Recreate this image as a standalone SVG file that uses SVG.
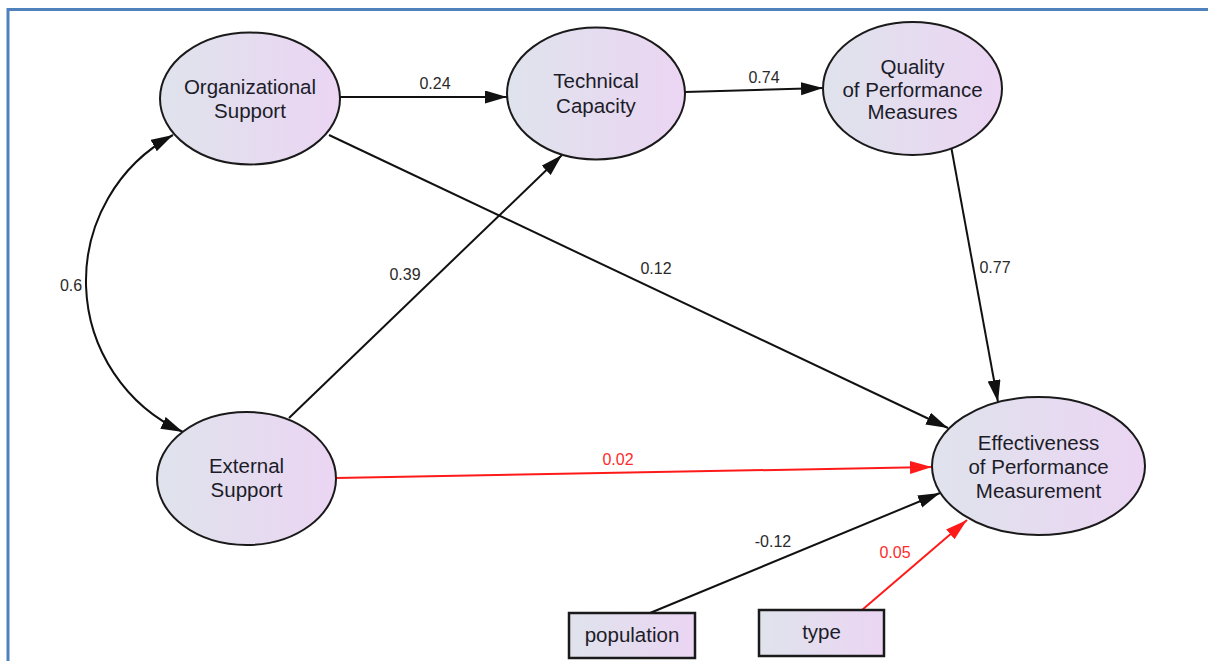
<svg xmlns="http://www.w3.org/2000/svg" width="1208" height="661" viewBox="0 0 1208 661">
  <defs>
    <linearGradient id="nodeFill" x1="0" y1="0" x2="1" y2="0">
      <stop offset="0" stop-color="#dfe3ec"/>
      <stop offset="1" stop-color="#ebd5f3"/>
    </linearGradient>
    <marker id="arrowBlack" markerUnits="userSpaceOnUse" markerWidth="24" markerHeight="14" refX="22" refY="6.5" orient="auto-start-reverse">
      <path d="M0,0 L22,6.5 L0,13 z" fill="#111"/>
    </marker>
    <marker id="arrowRed" markerUnits="userSpaceOnUse" markerWidth="24" markerHeight="14" refX="22" refY="6.5" orient="auto">
      <path d="M0,0 L22,6.5 L0,13 z" fill="#ff1a1a"/>
    </marker>
  </defs>
  <style>
    .node { fill: url(#nodeFill); stroke: #1a1a1a; stroke-width: 2; }
    .box { fill: url(#nodeFill); stroke: #1a1a1a; stroke-width: 2.5; }
    .label { font-family: "Liberation Sans", Arial, sans-serif; font-size: 20.5px; fill: #1c1c28; text-anchor: middle; }
    .coef { font-family: "Liberation Sans", Arial, sans-serif; font-size: 16px; fill: #2a2a2a; text-anchor: middle; }
    .coef.red { fill: #ff2a2a; }
    .edge { fill: none; stroke: #111; stroke-width: 2; marker-end: url(#arrowBlack); }
    .edge.red { stroke: #ff1a1a; marker-end: url(#arrowRed); }
  </style>

  <rect width="1208" height="661" fill="#ffffff"/>
  <!-- frame -->
  <rect x="8" y="9.5" width="1260" height="700" fill="none" stroke="#4f81bd" stroke-width="3"/>

  <!-- connectors -->
  <g id="connectors">
    <path class="edge" d="M173,135 A166,166 0 0,0 183,432" marker-start="url(#arrowBlack)"/>
    <path class="edge" d="M340,97 L507,97"/>
    <path class="edge" d="M685,92 L823,88"/>
    <path class="edge" d="M329,135 L948,428"/>
    <path class="edge" d="M289,418 L562,155"/>
    <path class="edge" d="M951,146 L998,402"/>
    <path class="edge red" d="M336,478 L932,467"/>
    <path class="edge" d="M650,613 L940,493"/>
    <path class="edge red" d="M862,610 L967,520"/>

    <text class="coef" x="71" y="291">0.6</text>
    <text class="coef" x="435" y="89">0.24</text>
    <text class="coef" x="764" y="83">0.74</text>
    <text class="coef" x="656" y="274">0.12</text>
    <text class="coef" x="405" y="280">0.39</text>
    <text class="coef" x="995" y="273">0.77</text>
    <text class="coef red" x="618" y="465">0.02</text>
    <text class="coef" x="773" y="547">-0.12</text>
    <text class="coef red" x="895" y="558">0.05</text>
  </g>

  <!-- latent variables -->
  <g id="organizational-support">
    <ellipse class="node" cx="250" cy="98.5" rx="90" ry="66"/>
    <text class="label" x="250" y="94">Organizational</text>
    <text class="label" x="250" y="118">Support</text>
  </g>
  <g id="technical-capacity">
    <ellipse class="node" cx="596" cy="93.5" rx="89" ry="66"/>
    <text class="label" x="596" y="88">Technical</text>
    <text class="label" x="596" y="113">Capacity</text>
  </g>
  <g id="quality-of-performance-measures">
    <ellipse class="node" cx="912.5" cy="88.5" rx="89.5" ry="66.5"/>
    <text class="label" x="912.5" y="74">Quality</text>
    <text class="label" x="912.5" y="97">of Performance</text>
    <text class="label" x="912.5" y="119">Measures</text>
  </g>
  <g id="external-support">
    <ellipse class="node" cx="246.5" cy="478.5" rx="89.5" ry="66.5"/>
    <text class="label" x="246.5" y="473">External</text>
    <text class="label" x="246.5" y="497">Support</text>
  </g>
  <g id="effectiveness-of-performance-measurement">
    <ellipse class="node" cx="1038.5" cy="466" rx="106.5" ry="69"/>
    <text class="label" x="1038.5" y="450">Effectiveness</text>
    <text class="label" x="1038.5" y="474">of Performance</text>
    <text class="label" x="1038.5" y="498">Measurement</text>
  </g>

  <!-- observed variables -->
  <g id="population">
    <rect class="box" x="569" y="613" width="126" height="45"/>
    <text class="label" x="632" y="642">population</text>
  </g>
  <g id="type">
    <rect class="box" x="759" y="610" width="125" height="46"/>
    <text class="label" x="821.5" y="639">type</text>
  </g>
</svg>
